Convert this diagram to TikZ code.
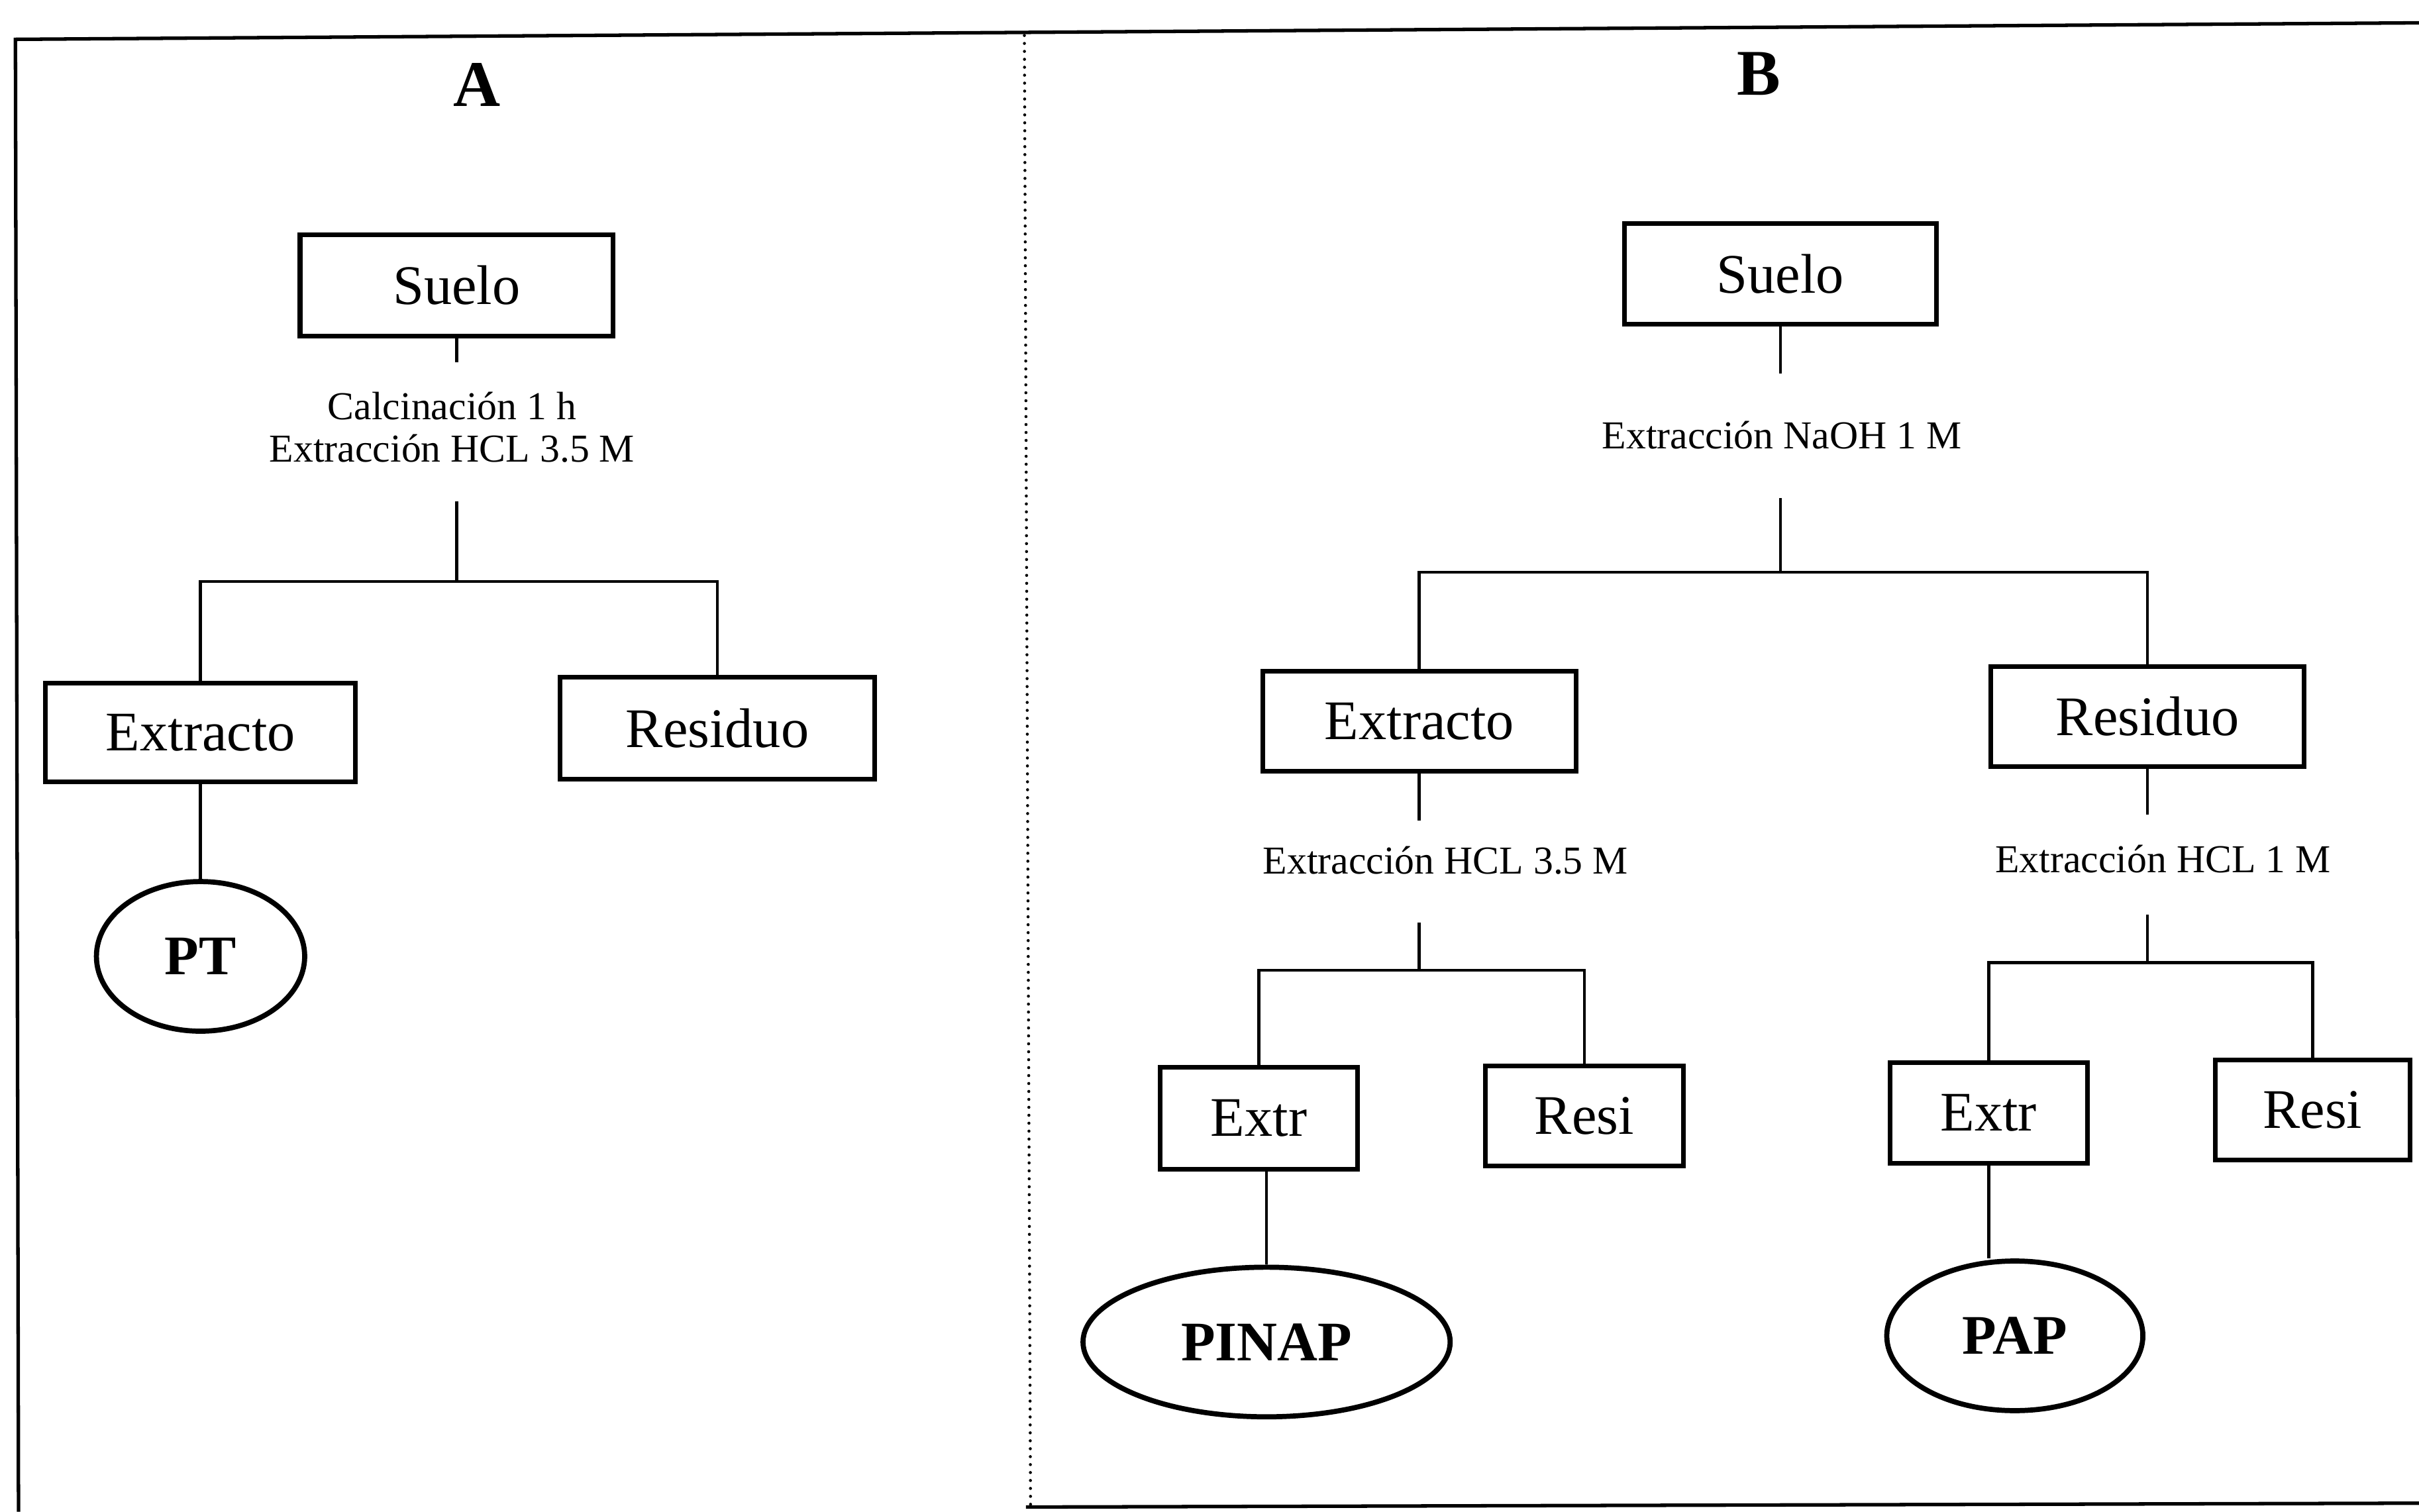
\documentclass[tikz,border=0pt]{standalone}
\usepackage{fontspec}
\setmainfont{Liberation Serif}
\usetikzlibrary{shapes.geometric}
\def\U{0.02329cm}
\begin{document}
\begin{tikzpicture}[x=0.02329cm,y=-0.02329cm,
  box/.style={draw,line width=2pt,inner sep=0pt,font=\fontsize{24}{28}\selectfont},
  lbl/.style={font=\fontsize{17}{18}\selectfont,align=center,inner sep=0pt},
  oval/.style={draw,ellipse,line width=2.2pt,inner sep=0pt,minimum height=97*\U,font=\fontsize{24}{28}\selectfont\bfseries},
  conn/.style={line width=1.3pt},
  ttl/.style={font=\fontsize{28}{32}\selectfont\bfseries},
  frame/.style={line width=1.5pt},
  divider/.style={line width=1.3pt,dash pattern=on 0.01pt off 3.4pt,line cap=round}]
\useasboundingbox (0,0) rectangle (1568,980);
\fill[white] (0,0) rectangle (1568,980);
% frame
\draw[frame] (1568,14.8) -- (10,25.5) -- (12,980);
\draw[frame] (665,977) -- (1568,974.5);
\draw[divider] (664,23) -- (668,978);
% titles
\node[ttl] (tA) at (309,55) {A};
\node[ttl] (tB) at (1140,48) {B};
% ---------- panel A
\node[box,minimum width=203*\U,minimum height=66*\U] (sA) at (296,185) {Suelo};
\node[lbl] (lA) at (293,277) {Calcinación 1 h\\Extracción HCL 3.5 M};
\coordinate (a1) at (296,235);
\coordinate (a2) at (296,325);
\coordinate (fA) at (296,377);
\node[box,minimum width=201*\U,minimum height=64*\U] (eA) at (130,475) {Extracto};
\node[box,minimum width=204*\U,minimum height=66*\U] (rA) at (465,472) {Residuo};
\node[oval,minimum width=135*\U] (pt) at (130,620) {PT};
\draw[conn] (sA.south) -- (a1);
\draw[conn] (a2) -- (fA);
\draw[conn] (eA.north) |- (fA) -| (rA.north);
\draw[conn] (eA.south) -- (pt.north);
% ---------- panel B
\node[box,minimum width=202*\U,minimum height=65*\U] (sB) at (1154,177.5) {Suelo};
\node[lbl] (lB) at (1155,282) {Extracción NaOH 1 M};
\coordinate (b1) at (1154,242);
\coordinate (b2) at (1154,323);
\coordinate (fB) at (1154,371);
\node[box,minimum width=203*\U,minimum height=65*\U] (eB) at (920,467.5) {Extracto};
\node[box,minimum width=203*\U,minimum height=65*\U] (rB) at (1392,464.5) {Residuo};
\draw[conn] (sB.south) -- (b1);
\draw[conn] (b2) -- (fB);
\draw[conn] (eB.north) |- (fB) -| (rB.north);
% sub-branch of Extracto
\node[lbl] (lC) at (937,558) {Extracción HCL 3.5 M};
\coordinate (c1) at (920,532);
\coordinate (c2) at (920,598);
\coordinate (fC) at (920,629);
\node[box,minimum width=128*\U,minimum height=66*\U] (eC) at (816,725) {Extr};
\node[box,minimum width=128*\U,minimum height=65*\U] (rC) at (1027,723.5) {Resi};
\node[oval,minimum width=238*\U] (pinap) at (821,870) {PINAP};
\draw[conn] (eB.south) -- (c1);
\draw[conn] (c2) -- (fC);
\draw[conn] (eC.north) |- (fC) -| (rC.north);
\draw[conn] (eC.south -| pinap.north) -- (pinap.north);
% sub-branch of Residuo
\node[lbl] (lD) at (1402,557) {Extracción HCL 1 M};
\coordinate (d1) at (1392,528);
\coordinate (d2) at (1392,593);
\coordinate (fD) at (1392,624);
\node[box,minimum width=128*\U,minimum height=65*\U] (eD) at (1289,721.5) {Extr};
\node[box,minimum width=126*\U,minimum height=65*\U] (rD) at (1499,719.5) {Resi};
\node[oval,minimum width=166*\U] (pap) at (1306,866) {PAP};
\draw[conn] (rB.south) -- (d1);
\draw[conn] (d2) -- (fD);
\draw[conn] (eD.north) |- (fD) -| (rD.north);
\draw[conn] (eD.south) -- (eD.south |- pap.north);
\end{tikzpicture}
\end{document}
